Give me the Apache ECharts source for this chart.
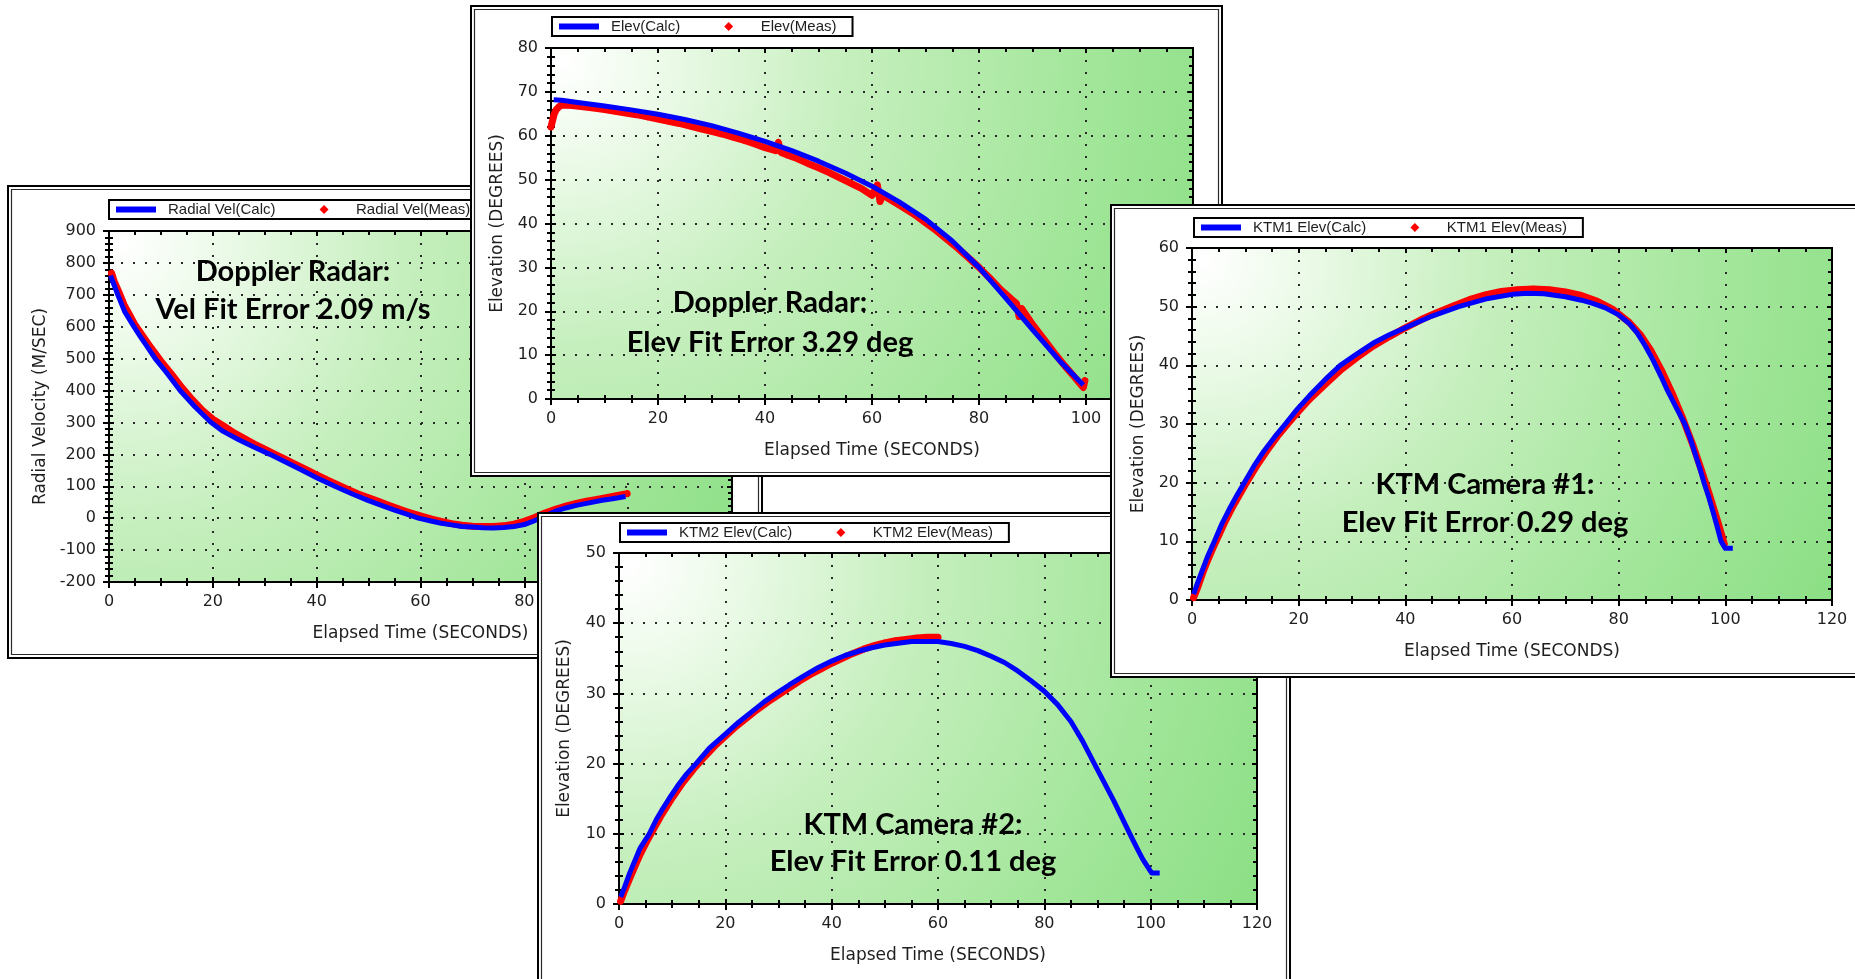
<!DOCTYPE html>
<html>
<head>
<meta charset="utf-8">
<title>Trajectory fit results</title>
<script src="https://cdn.jsdelivr.net/npm/echarts@6/dist/echarts.min.js"></script>
<style>
  html, body { margin: 0; padding: 0; background: #fff; width: 1855px; height: 979px; overflow: hidden; }
  body { position: relative; }
  .panel { position: absolute; background: #fff; }
</style>
</head>
<body>
<div id="panelVel"  class="panel" style="left:7px;top:185px;width:756px;height:474px;z-index:1"></div>
<div id="panelElev" class="panel" style="left:470px;top:5px;width:753px;height:472px;z-index:2"></div>
<div id="panelKtm2" class="panel" style="left:537px;top:512px;width:754px;height:480px;z-index:3"></div>
<div id="panelKtm1" class="panel" style="left:1110px;top:204px;width:760px;height:474px;z-index:4"></div>
<script>
// ---- Doppler radar: radial velocity (m/s) vs elapsed time (s) ----
const radialVelCalc = [
  [0.3, 760], [1, 730], [1.7, 700], [3, 648], [4.8, 600], [6, 570], [7, 546], [8.9, 500], [11, 458],
  [13.7, 400], [16.5, 350], [19.5, 302], [22, 272], [25, 246], [28, 222], [31, 200], [34, 176],
  [37, 152], [40, 127], [43.5, 100], [47, 75], [50, 55], [53, 37], [55, 25], [57.5, 12],
  [59.6, 0], [62, -9], [64, -16], [66, -21], [68, -26], [70, -28], [72, -30], [74, -30.5],
  [76, -29], [78, -26], [80, -20], [81.5, -11], [83, 0], [84.5, 11], [86, 22], [88, 32],
  [90, 40], [92.5, 48], [95, 56], [97, 61], [99.5, 68]
];
const radialVelMeas = [
  [0.5, 768], [1, 742], [2, 705], [3, 665], [4, 636], [5, 606], [6, 583], [8, 536], [10, 492],
  [12, 452], [14, 410], [16, 372], [18, 338], [20, 310], [22, 290], [24, 268], [26, 250],
  [28, 232], [30, 216], [32, 200], [34, 184], [36, 168], [38, 152], [40, 136], [42, 120],
  [44, 105], [46, 90], [48, 76], [50, 64], [52, 52], [54, 40], [56, 28], [58, 17], [60, 7],
  [62, -2], [64, -10], [66, -17], [68, -22], [70, -25], [72, -26], [74, -26], [76, -24],
  [78, -19], [80, -10], [82, 2], [84, 16], [86, 28], [88, 38], [90, 46], [92, 53], [94, 59],
  [96, 65], [98, 71], [99.8, 77]
];

// ---- Doppler radar: elevation (deg) ----
const radarElevCalc = [
  [0.5, 68.2], [2, 68.1], [5, 67.6], [10, 66.8], [15, 65.9], [20, 64.9], [25, 63.7], [30, 62.3],
  [35, 60.6], [40, 58.7], [45, 56.6], [50, 54.2], [55, 51.5], [60, 48.5], [65, 45], [70, 41],
  [75, 36], [80, 30], [85, 23], [90, 15.8], [95, 8.8], [99.5, 3.2]
];
const radarElevMeas = [
  [0, 62], [0.3, 63.5], [0.6, 65], [1, 66], [1.5, 66.6], [2, 67], [4, 66.9], [6, 66.6], [8, 66.3],
  [10, 66], [12, 65.6], [14, 65.2], [16, 64.8], [18, 64.3], [20, 63.8], [22, 63.3], [24, 62.8],
  [26, 62.2], [28, 61.6], [30, 61], [32, 60.4], [34, 59.7], [36, 59], [38, 58.2], [40, 57.3],
  [42, 56.6], [42.5, 58.5], [43, 56.2], [44, 55.7], [46, 54.8], [48, 53.7], [50, 52.7],
  [52, 51.6], [54, 50.4], [56, 49.2], [58, 48], [60, 46.4], [61, 48.8], [61.5, 45], [62, 46.5],
  [64, 45], [66, 43.5], [68, 42], [70, 40.2], [72, 38.4], [74, 36.4], [76, 34.4], [78, 32.2],
  [80, 30], [82, 27.6], [84, 25], [86, 22.8], [87, 21.8], [87.5, 18.8], [88, 20.6], [90, 17],
  [92, 13.8], [94, 10.6], [96, 7.6], [98, 4.8], [99.5, 2.6], [99.8, 4.2]
];

// ---- KTM camera #1: elevation (deg) ----
const ktm1ElevCalc = [
  [0.3, 1], [1, 2.8], [2, 5.2], [3, 7.6], [4.2, 10], [5.5, 12.8], [7, 15.5], [8.4, 17.8],
  [9.8, 20], [11.6, 22.8], [13.5, 25.4], [15.5, 27.8], [17.5, 30], [19.7, 32.5], [22, 34.8],
  [25, 37.6], [27.8, 40], [31, 42], [34, 43.8], [37, 45.2], [40, 46.4], [45, 48.4], [50, 50],
  [55, 51.3], [60, 52.1], [63, 52.3], [66, 52.2], [70, 51.7], [73, 51.1], [75, 50.6],
  [77.5, 49.8], [80, 48.6], [82, 47.1], [83.5, 45.5], [85, 43.3], [86.5, 40.8], [88, 38],
  [89, 36], [90.8, 32.8], [92.4, 30], [93.4, 27.6], [94.3, 25], [95.2, 22.5], [96, 20],
  [96.9, 17.5], [97.7, 15], [98.5, 12.4], [99.2, 10], [100, 8.8], [101.4, 8.8]
];
const ktm1ElevMeas = [
  [0.3, 0.4], [1, 2], [2, 4.6], [3, 6.9], [4, 9], [5, 11], [6, 13], [7, 14.8], [8, 16.5],
  [10, 19.7], [12, 22.7], [14, 25.4], [16, 27.9], [18, 30.1], [20, 32.2], [22, 34.2], [25, 36.8],
  [28, 39.3], [31, 41.4], [34, 43.3], [37, 44.9], [40, 46.4], [43, 47.8], [46, 49], [49, 50.1],
  [52, 51.2], [55, 52], [58, 52.6], [61, 52.9], [64, 53], [67, 52.9], [70, 52.5], [73, 51.9],
  [76, 50.9], [79, 49.5], [82, 47.3], [84, 45.3], [86, 42.6], [88, 39.2], [90, 35.3], [92, 31],
  [94, 26.2], [95.5, 22.2], [97, 18], [98.5, 13.6], [99.8, 9.6]
];

// ---- KTM camera #2: elevation (deg) ----
const ktm2ElevCalc = [
  [0.3, 1], [1, 2.3], [2, 4.4], [3, 6.2], [4, 8], [5.7, 10], [7, 12], [8, 13.3], [9.5, 15.1],
  [11, 16.8], [12.7, 18.5], [14.5, 20], [17, 22.2], [20, 24.2], [22.5, 25.9], [25, 27.4],
  [27.3, 28.8], [29.6, 30], [32, 31.2], [35, 32.6], [37.5, 33.7], [40, 34.6], [42.5, 35.4],
  [45, 36], [47.5, 36.5], [50, 36.9], [55, 37.4], [60, 37.4], [62.5, 37.1], [65, 36.7],
  [67.5, 36.1], [70, 35.3], [72.5, 34.4], [75, 33.2], [77.5, 31.8], [80, 30.3], [82.5, 28.4],
  [85, 26], [87.2, 23.2], [89.4, 20], [91.2, 17.4], [93, 14.8], [94.6, 12.3], [96.2, 9.8],
  [97.4, 8], [98.5, 6.4], [100.2, 4.4], [101.7, 4.4]
];
const ktm2ElevMeas = [
  [0.3, 0.4], [1, 1.8], [2, 3.6], [3, 5.4], [4, 7.1], [5, 8.6], [6, 10], [8, 12.7], [10, 15.1],
  [12, 17.3], [14, 19.2], [16, 20.9], [18, 22.5], [20, 23.9], [22, 25.3], [24, 26.5], [26, 27.7],
  [28, 28.8], [30, 29.8], [32, 30.8], [34, 31.8], [36, 32.7], [38, 33.5], [40, 34.3], [42, 35],
  [44, 35.7], [46, 36.3], [48, 36.8], [50, 37.2], [52, 37.5], [54, 37.7], [56, 37.9], [58, 38],
  [60, 38]
];

// ---- Overlaid fit summaries ----
const noteRadarVel  = ['Doppler Radar:', 'Vel Fit Error 2.09 m/s'];
const noteRadarElev = ['Doppler Radar:', 'Elev Fit Error 3.29 deg'];
const noteKtm1      = ['KTM Camera #1:', 'Elev Fit Error 0.29 deg'];
const noteKtm2      = ['KTM Camera #2:', 'Elev Fit Error 0.11 deg'];

const timeAxisName = 'Elapsed Time (SECONDS)';

const AXIS_FONT = '"DejaVu Sans", Verdana, sans-serif';
const LEGEND_FONT = '"Liberation Sans", Arial, sans-serif';
const INK = '#1e1e1e';
const CALC_COLOR = '#0000ff';
const MEAS_COLOR = '#ff0000';
// legend glyphs: a thick bar for the fitted curve, a diamond for the measurements
const BAR_ICON = 'path://M0,0L40,0L40,6L0,6Z';
const DIAMOND_ICON = 'path://M0,-1L1,0L0,1L-1,0Z';

function buildPanel(el, cfg) {
  const chart = echarts.init(el, null, { renderer: 'canvas' });
  const W = el.clientWidth, H = el.clientHeight;

  // plot area: white corner at top-left fading to green
  const plotFill = new echarts.graphic.RadialGradient(0.02, 0.04, 2.0, [
    { offset: 0, color: '#ffffff' },
    { offset: 0.12, color: '#effbec' },
    { offset: 0.4, color: '#c6efbe' },
    { offset: 0.75, color: '#a2e69a' },
    { offset: 1, color: '#8cdf85' }
  ]);
  const tickStyle = { color: '#000', width: 2 };
  const dotted = { show: true, lineStyle: { color: '#2a2a2a', width: 2, type: [2, 10] } };
  const solidAxis = { show: true, onZero: false, lineStyle: { color: '#000', width: 2 } };

  const xBase = { type: 'value', min: 0, max: 120, interval: 20, gridIndex: 0 };
  const yBase = { type: 'value', min: cfg.yMin, max: cfg.yMax, interval: cfg.yStep, gridIndex: 0 };
  const innerTicks = (n) => ({
    axisTick: { show: true, inside: true, length: 5, lineStyle: tickStyle },
    minorTick: { show: true, splitNumber: n, length: 4, lineStyle: tickStyle },
    axisLabel: { show: false }, splitLine: { show: false }
  });

  const xAxis = [
    Object.assign({}, xBase, {
      position: 'bottom', axisLine: solidAxis,
      axisTick: { show: true, inside: false, length: 6, lineStyle: tickStyle },
      minorTick: { show: true, splitNumber: 4, length: 4, lineStyle: tickStyle },
      axisLabel: { show: true, margin: 12, color: INK, fontSize: 16, fontFamily: AXIS_FONT },
      splitLine: dotted,
      name: timeAxisName, nameLocation: 'middle', nameGap: 43, nameMoveOverlap: false,
      nameTextStyle: { color: INK, fontSize: 17, fontFamily: AXIS_FONT }
    }),
    Object.assign({}, xBase, { position: 'bottom', axisLine: { show: false, onZero: false } }, innerTicks(4)),
    Object.assign({}, xBase, { position: 'top', axisLine: solidAxis }, innerTicks(4))
  ];
  const yAxis = [
    Object.assign({}, yBase, {
      position: 'left', axisLine: solidAxis,
      axisTick: { show: true, inside: false, length: 6, lineStyle: tickStyle },
      minorTick: { show: true, splitNumber: 5, length: 4, lineStyle: tickStyle },
      axisLabel: { show: true, margin: 13, color: INK, fontSize: 16, fontFamily: AXIS_FONT },
      splitLine: dotted,
      name: cfg.yName, nameLocation: 'middle', nameGap: cfg.yNameGap, nameMoveOverlap: false,
      nameTextStyle: { color: INK, fontSize: 17, fontFamily: AXIS_FONT }
    }),
    Object.assign({}, yBase, { position: 'left', axisLine: { show: false, onZero: false } }, innerTicks(5)),
    Object.assign({}, yBase, { position: 'right', axisLine: solidAxis }, innerTicks(5))
  ];

  const noteFont = 'bold 29px Lato, "Open Sans", sans-serif';
  const noteText = (txt, y) => ({
    type: 'text', x: cfg.noteX, y: y, z: 60, silent: true,
    style: { text: txt, font: noteFont, fill: '#000', textAlign: 'center', align: 'center',
             textVerticalAlign: 'middle', verticalAlign: 'middle' }
  });

  chart.setOption({
    animation: false,
    grid: {
      left: cfg.grid[0], top: cfg.grid[1], width: cfg.grid[2], height: cfg.grid[3],
      show: true, backgroundColor: plotFill, borderColor: '#000', borderWidth: 2,
      containLabel: false, outerBoundsMode: 'none'
    },
    legend: {
      left: cfg.legend[0], top: cfg.legend[1], orient: 'horizontal',
      padding: [2, 16, 2, 7], itemGap: 44, itemWidth: 40, itemHeight: 9,
      backgroundColor: '#fff', borderColor: '#000', borderWidth: 2, borderRadius: 0,
      selectedMode: false, itemStyle: { borderWidth: 0 }, symbolKeepAspect: true,
      textStyle: { color: INK, fontSize: 15, lineHeight: 15, fontFamily: LEGEND_FONT, padding: [0, 0, 0, 7] },
      data: [ { name: cfg.calcName, icon: BAR_ICON }, { name: cfg.measName, icon: DIAMOND_ICON } ]
    },
    xAxis: xAxis,
    yAxis: yAxis,
    series: [
      {
        type: 'line', name: cfg.measName, data: cfg.meas, xAxisIndex: 0, yAxisIndex: 0,
        symbol: 'diamond', symbolSize: 7, showSymbol: true, showAllSymbol: true,
        itemStyle: { color: MEAS_COLOR }, lineStyle: { color: MEAS_COLOR, width: 7, join: 'round', cap: 'round' },
        z: 3, silent: true
      },
      {
        type: 'line', name: cfg.calcName, data: cfg.calc, xAxisIndex: 0, yAxisIndex: 0,
        smooth: false, symbol: 'none', showSymbol: false,
        itemStyle: { color: CALC_COLOR }, lineStyle: { color: CALC_COLOR, width: 5, join: 'round' },
        z: 4, silent: true
      }
    ],
    graphic: [
      { type: 'rect', z: 50, silent: true,
        shape: { x: 1, y: 1, width: W - 2, height: H - 2 },
        style: { fill: 'none', stroke: '#000', lineWidth: 2 } },
      { type: 'rect', z: 50, silent: true,
        shape: { x: 4.5, y: 4.5, width: W - 9, height: H - 9 },
        style: { fill: 'none', stroke: '#2a2a2a', lineWidth: 1.2 } },
      noteText(cfg.note[0], cfg.noteY[0]),
      noteText(cfg.note[1], cfg.noteY[1])
    ]
  });
  return chart;
}

buildPanel(document.getElementById('panelVel'), {
  grid: [102, 46, 623, 351], legend: [102, 15],
  yMin: -200, yMax: 900, yStep: 100, yName: 'Radial Velocity (M/SEC)', yNameGap: 60,
  calcName: 'Radial Vel(Calc)', measName: 'Radial Vel(Meas)',
  calc: radialVelCalc, meas: radialVelMeas,
  note: noteRadarVel, noteX: 286, noteY: [87, 125]
});
buildPanel(document.getElementById('panelElev'), {
  grid: [81, 43, 642, 351], legend: [82, 12],
  yMin: 0, yMax: 80, yStep: 10, yName: 'Elevation (DEGREES)', yNameGap: 45,
  calcName: 'Elev(Calc)', measName: 'Elev(Meas)',
  calc: radarElevCalc, meas: radarElevMeas,
  note: noteRadarElev, noteX: 300, noteY: [298, 338]
});
buildPanel(document.getElementById('panelKtm2'), {
  grid: [82, 41, 638, 351], legend: [83, 11],
  yMin: 0, yMax: 50, yStep: 10, yName: 'Elevation (DEGREES)', yNameGap: 46,
  calcName: 'KTM2 Elev(Calc)', measName: 'KTM2 Elev(Meas)',
  calc: ktm2ElevCalc, meas: ktm2ElevMeas,
  note: noteKtm2, noteX: 376, noteY: [313, 350]
});
buildPanel(document.getElementById('panelKtm1'), {
  grid: [82, 44, 640, 352], legend: [84, 14],
  yMin: 0, yMax: 60, yStep: 10, yName: 'Elevation (DEGREES)', yNameGap: 45,
  calcName: 'KTM1 Elev(Calc)', measName: 'KTM1 Elev(Meas)',
  calc: ktm1ElevCalc, meas: ktm1ElevMeas,
  note: noteKtm1, noteX: 375, noteY: [281, 319]
});
</script>
</body>
</html>
